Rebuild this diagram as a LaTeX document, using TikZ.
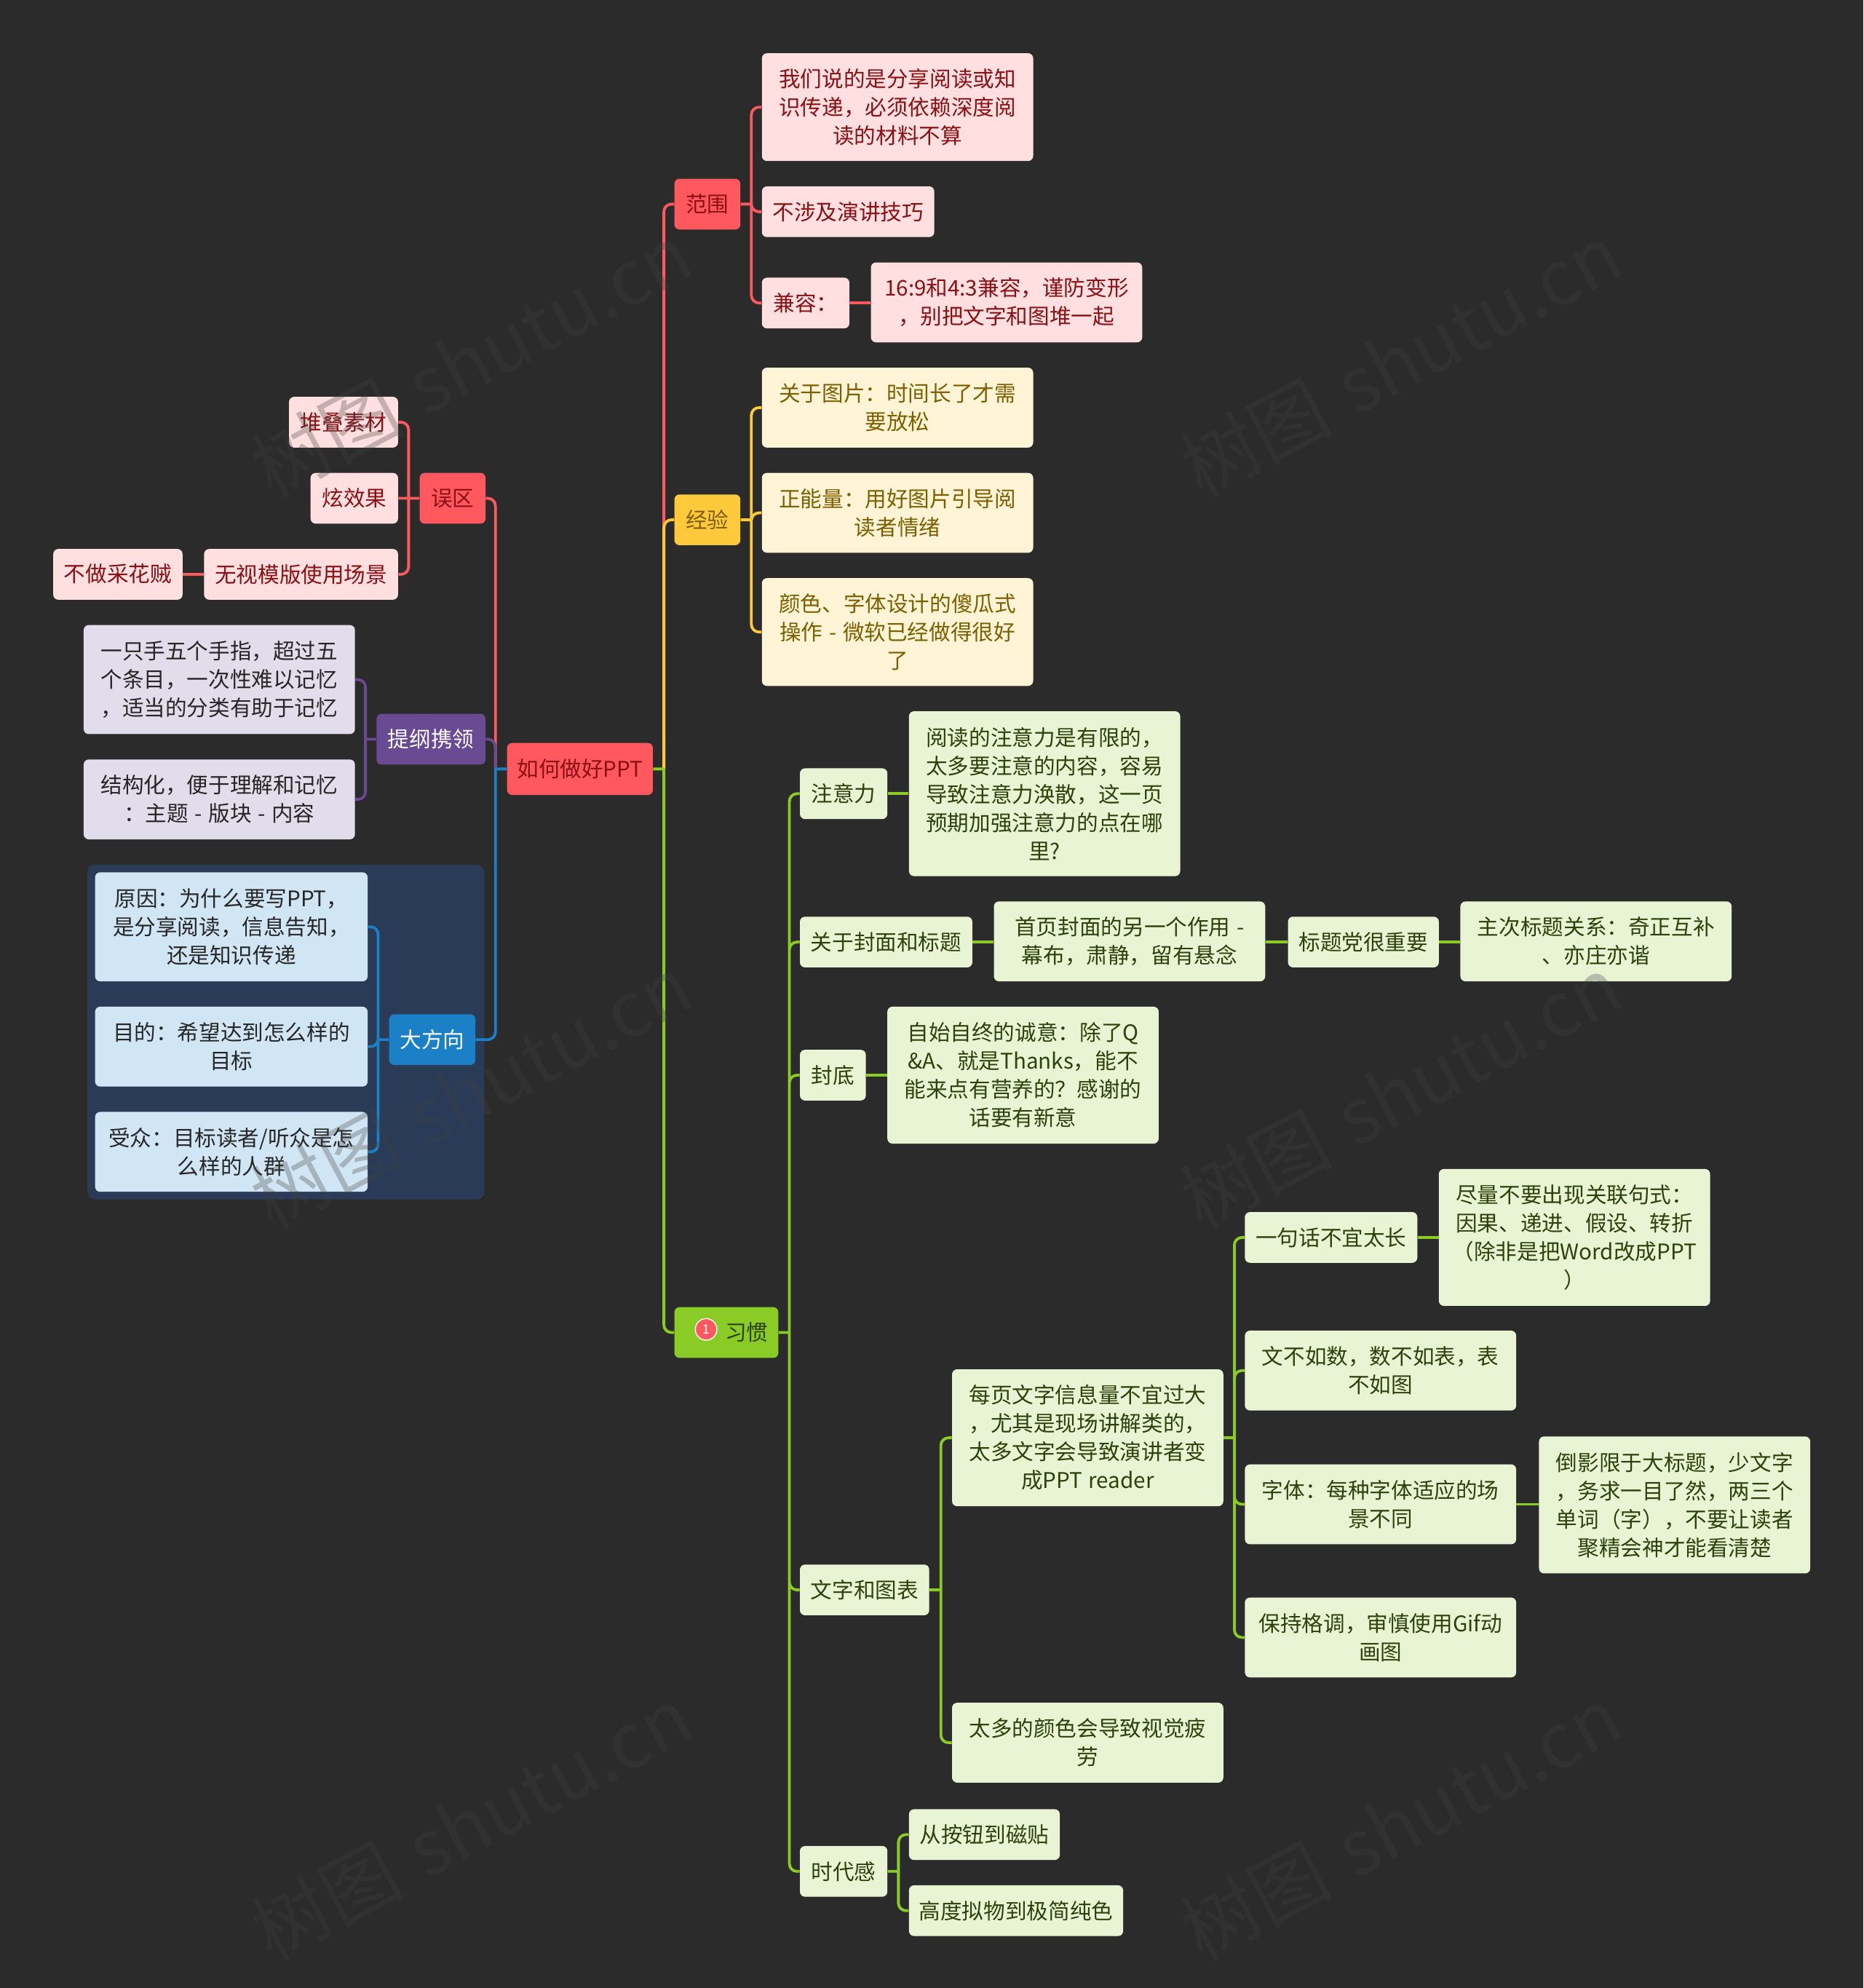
\documentclass[tikz,border=0pt]{standalone}
\usepackage{fontspec}
\setmainfont{Noto Sans CJK SC}[WordSpace=1.3]
\usepackage{xcolor}
\definecolor{bgdark}{HTML}{2B2B2B}
\definecolor{redmain}{HTML}{FF595F}
\definecolor{redlight}{HTML}{FFDFDF}
\definecolor{redtext}{HTML}{8A1014}
\definecolor{yellowmain}{HTML}{FFC93C}
\definecolor{yellowlight}{HTML}{FFF4D6}
\definecolor{yellowtext}{HTML}{7D5F00}
\definecolor{greenmain}{HTML}{8ACB25}
\definecolor{greenlight}{HTML}{E9F4D5}
\definecolor{greentext}{HTML}{2C4209}
\definecolor{purplemain}{HTML}{6A4A93}
\definecolor{purplelight}{HTML}{E1DDEA}
\definecolor{bluemain}{HTML}{1C80C6}
\definecolor{bluelight}{HTML}{D1E6F4}
\definecolor{blueband}{HTML}{2A3B58}
\definecolor{markgray}{HTML}{404040}
\tikzset{
    topic/.style={rounded corners=4pt, inner sep=0pt, align=center, font=\fontsize{17}{22.4}\selectfont},
    boxsize/.style 2 args={minimum width=#1pt, minimum height=#2pt},
    redmainbox/.style={topic, fill=redmain, text=redtext},
    redbox/.style={topic, fill=redlight, text=redtext},
    yellowmainbox/.style={topic, fill=yellowmain, text=yellowtext},
    yellowbox/.style={topic, fill=yellowlight, text=yellowtext},
    greenmainbox/.style={topic, fill=greenmain, text=greentext},
    greenbox/.style={topic, fill=greenlight, text=greentext},
    purplemainbox/.style={topic, fill=purplemain, text=white},
    purplebox/.style={topic, fill=purplelight, text=black!85},
    bluemainbox/.style={topic, fill=bluemain, text=white},
    bluebox/.style={topic, fill=bluelight, text=black!85},
    redline/.style={draw=redmain, line width=2.2pt, rounded corners=6pt},
    yellowline/.style={draw=yellowmain, line width=2.2pt, rounded corners=6pt},
    greenline/.style={draw=greenmain, line width=2.2pt, rounded corners=6pt},
    purpleline/.style={draw=purplemain, line width=2.2pt, rounded corners=6pt},
    blueline/.style={draw=bluemain, line width=2.2pt, rounded corners=6pt},
    watermark/.style={rotate=28, text=markgray, text opacity=0.3, font=\fontsize{60}{60}\selectfont}
}
\begin{document}
\begin{tikzpicture}[x=1pt, y=-1pt]
    \useasboundingbox (0,0) rectangle (1470,1568);
    \fill[bgdark] (0,0) rectangle (1470,1568);
    \node[rounded corners=6pt, fill=blueband, boxsize={313}{264}] (boundary) at (225.5,814) {};

    \node[redmainbox, boxsize={115}{41}] (root) at (457.5,606.5) {如何做好PPT};

    % right side
    \node[redmainbox, boxsize={52}{40}] (fanwei) at (558,161) {范围};
    \node[redbox, boxsize={214}{85}] (fenxiang) at (708,84.5) {我们说的是分享阅读或知\\识传递，必须依赖深度阅\\读的材料不算};
    \node[redbox, boxsize={136}{40}] (yanjiang) at (669,167) {不涉及演讲技巧};
    \node[redbox, boxsize={69}{40}] (jianrong) at (635.5,239) {兼容：};
    \node[redbox, boxsize={214}{63}] (bianxing) at (794,238.5) {16:9和4:3兼容，谨防变形\\，别把文字和图堆一起};

    \node[yellowmainbox, boxsize={52}{40}] (jingyan) at (558,410) {经验};
    \node[yellowbox, boxsize={214}{63}] (tupian) at (708,321.5) {关于图片：时间长了才需\\要放松};
    \node[yellowbox, boxsize={214}{63}] (zhengneng) at (708,404.5) {正能量：用好图片引导阅\\读者情绪};
    \node[yellowbox, boxsize={214}{85}] (yanse) at (708,498.5) {颜色、字体设计的傻瓜式\\操作 - 微软已经做得很好\\了};

    \node[greenmainbox, boxsize={82}{40}] (xiguan) at (573,1051) {\hspace*{32pt}习惯};
    \node[circle, draw=white, line width=0.8pt, fill=redmain, text=white, inner sep=0pt, minimum size=17pt, font=\fontsize{10}{10}\selectfont] (badge) at (557,1048.5) {1};

    \node[greenbox, boxsize={69}{40}] (zhuyi) at (665.5,626) {注意力};
    \node[greenbox, boxsize={214}{130}] (zhuyili) at (824,626) {阅读的注意力是有限的，\\太多要注意的内容，容易\\导致注意力涣散，这一页\\预期加强注意力的点在哪\\里?};
    \node[greenbox, boxsize={136}{40}] (fengmian) at (699,743) {关于封面和标题};
    \node[greenbox, boxsize={214}{63}] (shouye) at (891,742.5) {首页封面的另一个作用 -\\幕布，肃静，留有悬念};
    \node[greenbox, boxsize={119}{40}] (biaoti) at (1075.5,743) {标题党很重要};
    \node[greenbox, boxsize={214}{63}] (zhuci) at (1259,742.5) {主次标题关系：奇正互补\\、亦庄亦谐};
    \node[greenbox, boxsize={52}{40}] (fengdi) at (657,848) {封底};
    \node[greenbox, boxsize={214}{108}] (chengyi) at (807,848) {自始自终的诚意：除了Q\\\&A、就是Thanks，能不\\能来点有营养的？感谢的\\话要有新意};
    \node[greenbox, boxsize={102}{40}] (wenzi) at (682,1254) {文字和图表};
    \node[greenbox, boxsize={214}{108}] (meiye) at (858,1134) {每页文字信息量不宜过大\\，尤其是现场讲解类的，\\太多文字会导致演讲者变\\成PPT reader};
    \node[greenbox, boxsize={214}{63}] (yanseduo) at (858,1374.5) {太多的颜色会导致视觉疲\\劳};
    \node[greenbox, boxsize={136}{40}] (yijuhua) at (1050,976) {一句话不宜太长};
    \node[greenbox, boxsize={214}{108}] (guanlian) at (1242,976) {尽量不要出现关联句式：\\因果、递进、假设、转折\\（除非是把Word改成PPT\\）};
    \node[greenbox, boxsize={214}{63}] (wenbu) at (1089,1081) {文不如数，数不如表，表\\不如图};
    \node[greenbox, boxsize={214}{63}] (ziti) at (1089,1186.5) {字体：每种字体适应的场\\景不同};
    \node[greenbox, boxsize={214}{108}] (daoying) at (1321,1187) {倒影限于大标题，少文字\\，务求一目了然，两三个\\单词（字），不要让读者\\聚精会神才能看清楚};
    \node[greenbox, boxsize={214}{63}] (gediao) at (1089,1291.5) {保持格调，审慎使用Gif动\\画图};
    \node[greenbox, boxsize={69}{40}] (shidai) at (665.5,1476) {时代感};
    \node[greenbox, boxsize={119}{40}] (citie) at (776.5,1447) {从按钮到磁贴};
    \node[greenbox, boxsize={169}{40}] (nisu) at (801.5,1507) {高度拟物到极简纯色};

    % left side
    \node[redmainbox, boxsize={52}{40}] (wuqu) at (357,393) {误区};
    \node[redbox, boxsize={86}{40}] (duidie) at (271,333) {堆叠素材};
    \node[redbox, boxsize={69}{40}] (xuan) at (279.5,393) {炫效果};
    \node[redbox, boxsize={153}{40}] (moban) at (237.5,453) {无视模版使用场景};
    \node[redbox, boxsize={102}{40}] (caihua) at (93,453) {不做采花贼};

    \node[purplemainbox, boxsize={86}{40}] (tigang) at (340,583) {提纲携领};
    \node[purplebox, boxsize={214}{86}] (shouzhi) at (173,536) {一只手五个手指，超过五\\个条目，一次性难以记忆\\，适当的分类有助于记忆};
    \node[purplebox, boxsize={214}{63}] (jiegou) at (173,630.5) {结构化，便于理解和记忆\\：主题 - 版块 - 内容};

    \node[bluemainbox, boxsize={68}{40}] (dafang) at (341,820) {大方向};
    \node[bluebox, boxsize={215}{86}] (yuanyin) at (182.5,731) {原因：为什么要写PPT，\\是分享阅读，信息告知，\\还是知识传递};
    \node[bluebox, boxsize={215}{63}] (mudi) at (182.5,825.5) {目的：希望达到怎么样的\\目标};
    \node[bluebox, boxsize={215}{63}] (shouzhong) at (182.5,908.5) {受众：目标读者/听众是怎\\么样的人群};

    % trunks
    \coordinate (rootr) at ([xshift=8.5pt]root.east);
    \coordinate (rootl) at ([xshift=-9pt]root.west);
    \coordinate (fanweir) at ([xshift=8.5pt]fanwei.east);
    \coordinate (jingyanr) at ([xshift=8.5pt]jingyan.east);
    \coordinate (xiguanr) at ([xshift=8.5pt]xiguan.east);
    \coordinate (wenzir) at ([xshift=9pt]wenzi.east);
    \coordinate (meiyer) at ([xshift=8.5pt]meiye.east);
    \coordinate (shidair) at ([xshift=8.5pt]shidai.east);
    \coordinate (wuqul) at ([xshift=-8.5pt]wuqu.west);
    \coordinate (tigangl) at ([xshift=-8.5pt]tigang.west);
    \coordinate (dafangl) at ([xshift=-8.5pt]dafang.west);

    % connectors
    \draw[redline] (rootr) |- (fanwei.west);
    \draw[yellowline] (rootr) |- (jingyan.west);
    \draw[greenline] (rootr) |- (xiguan.west) (root.east) -- (rootr);
    \draw[redline] (rootl) |- (wuqu.east);
    \draw[purpleline] (rootl) |- (tigang.east);
    \draw[blueline] (rootl) |- (dafang.east) (root.west) -- (rootl);

    \draw[redline] (fanwei.east) -- (fanweir) (fanweir) |- (fenxiang.west) (fanweir) |- (yanjiang.west) (fanweir) |- (jianrong.west);
    \draw[redline] (jianrong.east) -- (bianxing.west |- jianrong.east);

    \draw[yellowline] (jingyan.east) -- (jingyanr) (jingyanr) |- (tupian.west) (jingyanr) |- (zhengneng.west) (jingyanr) |- (yanse.west);

    \draw[greenline] (xiguan.east) -- (xiguanr) (xiguanr) |- (zhuyi.west) (xiguanr) |- (fengmian.west) (xiguanr) |- (fengdi.west) (xiguanr) |- (wenzi.west) (xiguanr) |- (shidai.west);
    \draw[greenline] (zhuyi.east) -- (zhuyili.west);
    \draw[greenline] (fengmian.east) -- (shouye.west |- fengmian.east);
    \draw[greenline] (shouye.east |- biaoti.west) -- (biaoti.west);
    \draw[greenline] (biaoti.east) -- (zhuci.west |- biaoti.east);
    \draw[greenline] (fengdi.east) -- (chengyi.west);
    \draw[greenline] (wenzi.east) -- (wenzir) (wenzir) |- (meiye.west) (wenzir) |- (yanseduo.west);
    \draw[greenline] (meiye.east) -- (meiyer) (meiyer) |- (yijuhua.west) (meiyer) |- (wenbu.west) (meiyer) |- (ziti.west) (meiyer) |- (gediao.west);
    \draw[greenline] (yijuhua.east) -- (guanlian.west);
    \draw[greenline] (ziti.east) -- (daoying.west |- ziti.east);
    \draw[greenline] (shidai.east) -- (shidair) (shidair) |- (citie.west) (shidair) |- (nisu.west);

    \draw[redline] (wuqu.west) -- (xuan.east) (wuqul) |- (duidie.east) (wuqul) |- (moban.east);
    \draw[redline] (moban.west) -- (caihua.east);

    \draw[purpleline] (tigang.west) -- (tigangl) (tigangl) |- (shouzhi.east) (tigangl) |- (jiegou.east);

    \draw[blueline] (dafang.west) -- (dafangl) (dafangl) |- (yuanyin.east) (dafangl) |- (mudi.east) (dafangl) |- (shouzhong.east);

    % watermark
    \node[watermark] (mark1) at (372,284) {树图 shutu.cn};
    \node[watermark] (mark2) at (1105,284) {树图 shutu.cn};
    \node[watermark] (mark3) at (372,861) {树图 shutu.cn};
    \node[watermark] (mark4) at (1105,861) {树图 shutu.cn};
    \node[watermark] (mark5) at (372,1438) {树图 shutu.cn};
    \node[watermark] (mark6) at (1105,1438) {树图 shutu.cn};
\end{tikzpicture}
\end{document}
